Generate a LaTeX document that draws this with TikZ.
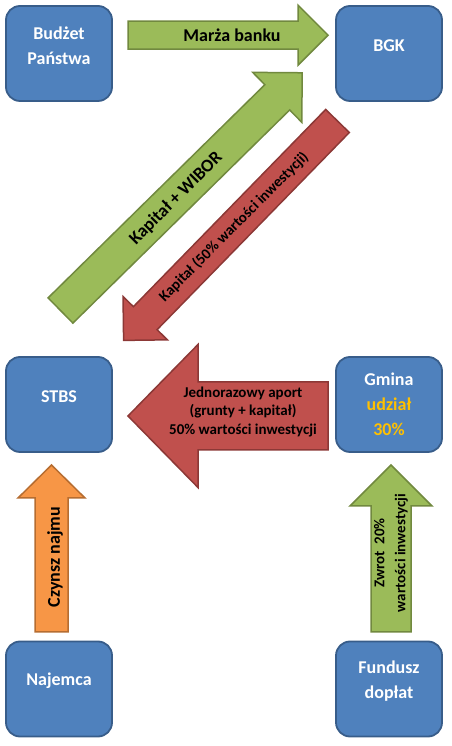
\documentclass[tikz,border=0pt]{standalone}
\usepackage{fontspec}
\setmainfont{Carlito}
\usetikzlibrary{calc}

\definecolor{boxblue}{HTML}{4F81BD}
\definecolor{boxedge}{HTML}{385D8A}
\definecolor{agreen}{HTML}{9BBB59}
\definecolor{agreenedge}{HTML}{71893F}
\definecolor{ared}{HTML}{C0504D}
\definecolor{arededge}{HTML}{8C3836}
\definecolor{aorange}{HTML}{F79646}
\definecolor{aorangeedge}{HTML}{B66D31}
\definecolor{gold}{HTML}{FFC000}

\begin{document}
\begin{tikzpicture}[
    x=1pt, y=1pt,
    box/.style={draw=boxedge, line width=1.8pt, fill=boxblue, rounded corners=14pt,
      minimum width=106pt, minimum height=95pt},
    boxtxt/.style={text=white, font=\fontsize{18}{25}\selectfont\bfseries, align=center},
    greenarr/.style={draw=agreenedge, line width=1.5pt, fill=agreen},
    redarr/.style={draw=arededge, line width=1.5pt, fill=ared},
    orangearr/.style={draw=aorangeedge, line width=1.5pt, fill=aorange},
    arrtxt/.style={text=black, font=\fontsize{18}{22}\selectfont\bfseries, align=center},
    arrtxtsmall/.style={text=black, font=\fontsize{15}{18.5}\selectfont\bfseries, align=center},
  ]
  % Helper macro: \blockarrow{style}{tail}{tip}{shaft half-width}{head half-width}{head length}
  \newcommand{\blockarrow}[6]{%
    \coordinate (#2-hb) at ($(#3)!#6!(#2)$);
    \draw[#1] ($(#2)!#4!90:(#3)$) -- ($(#2-hb)!#4!90:(#3)$)
      -- ($(#2-hb)!#5!90:(#3)$) -- (#3) -- ($(#2-hb)!#5!-90:(#3)$)
      -- ($(#2-hb)!#4!-90:(#3)$) -- ($(#2)!#4!-90:(#3)$) -- cycle;
  }

  \useasboundingbox (0,0) rectangle (451,746);

  % Boxes
  \node[box, label={[boxtxt, yshift=8pt]center:{Budżet\\Państwa}}] (bud) at (59,692.5) {};
  \node[box, label={[boxtxt, yshift=8pt]center:BGK}] (bgk) at (389,692.5) {};
  \node[box, label={[boxtxt, yshift=8pt]center:STBS}] (stbs) at (59,341.5) {};
  \node[box, label={[boxtxt]center:{Gmina\\{\color{gold}udział}\\{\color{gold}30\%}}}] (gmina) at (389,341.5) {};
  \node[box, label={[boxtxt, yshift=8pt]center:Najemca}] (naj) at (59,57) {};
  \node[box, label={[boxtxt, yshift=8pt]center:{Fundusz\\dopłat}}] (fund) at (389,57) {};

  % Arrow ends
  \coordinate (marza) at (128,710.8);   \coordinate (marza-tip) at (328,710.8);
  \coordinate (wibor) at (60.5,435.5);  \coordinate (wibor-tip) at (302.2,673.2);
  \coordinate (kap) at (337.5,625);     \coordinate (kap-tip) at (123.6,405.6);
  \coordinate (aport) at (328,330);     \coordinate (aport-tip) at (128,330);
  \coordinate (czynsz) at (51.5,114);   \coordinate (czynsz-tip) at (51.5,281);
  \coordinate (zwrot) at (391,114);     \coordinate (zwrot-tip) at (391,281);

  % Block arrows
  \blockarrow{greenarr}{marza}{marza-tip}{14pt}{30pt}{30pt}
  \blockarrow{greenarr}{wibor}{wibor-tip}{17.7pt}{35pt}{35pt}
  \blockarrow{redarr}{kap}{kap-tip}{16.5pt}{31pt}{31pt}
  \blockarrow{redarr}{aport}{aport-tip}{34pt}{71.5pt}{70pt}
  \blockarrow{orangearr}{czynsz}{czynsz-tip}{16.5pt}{33.5pt}{33pt}
  \blockarrow{greenarr}{zwrot}{zwrot-tip}{20pt}{41pt}{41pt}

  % Arrow labels
  \node[arrtxt] (marza-t) at (232,711) {Marża banku};
  \node[arrtxt, rotate=45] (wibor-t) at (176,547.5) {Kapitał + WIBOR};
  \node[arrtxtsmall, rotate=45] (kap-t) at (234,519) {Kapitał (50\% wartości inwestycji)};
  \node[arrtxtsmall] (aport-t) at (243,334) {Jednorazowy aport\\(grunty + kapitał)\\50\% wartości inwestycji};
  \node[arrtxt, rotate=90] (czynsz-t) at (55,189) {Czynsz najmu};
  \node[arrtxtsmall, rotate=90, font=\fontsize{15}{21}\selectfont\bfseries] (zwrot-t) at (391,193) {Zwrot\ \ 20\%\\wartości inwestycji};
\end{tikzpicture}
\end{document}
